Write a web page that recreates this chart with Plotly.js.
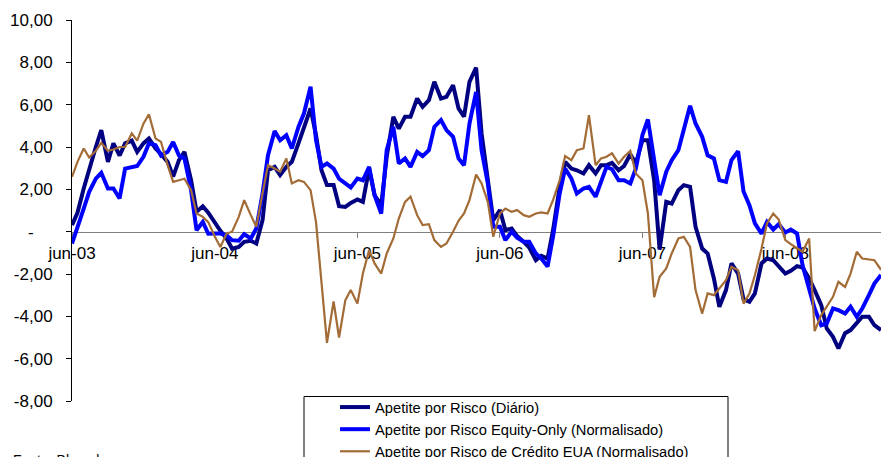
<!DOCTYPE html>
<html>
<head>
<meta charset="utf-8">
<script src="https://cdn.plot.ly/plotly-3.0.1.min.js"></script>
<style>html,body{margin:0;padding:0;background:#fff}#chart{width:881px;height:457px}</style>
</head>
<body>
<div id="chart"></div>
<script>
const dates = [
'2003-06-01','2003-06-15','2003-07-01','2003-07-15','2003-08-01','2003-08-15','2003-09-01','2003-09-15','2003-10-01','2003-10-15','2003-11-01','2003-11-15','2003-12-01','2003-12-15',
'2004-01-01','2004-01-15','2004-02-01','2004-02-15','2004-03-01','2004-03-15','2004-04-01','2004-04-15','2004-05-01','2004-05-15','2004-06-01','2004-06-15','2004-07-01','2004-07-15','2004-08-01','2004-08-15','2004-09-01','2004-09-15','2004-10-01','2004-10-15','2004-11-01','2004-11-15','2004-12-01','2004-12-15',
'2005-01-01','2005-01-15','2005-02-01','2005-02-15','2005-03-01','2005-03-15','2005-04-01','2005-04-15','2005-05-01','2005-05-15','2005-06-01','2005-06-15','2005-07-01','2005-07-15','2005-08-01','2005-08-15','2005-09-01','2005-09-15','2005-10-01','2005-10-15','2005-11-01','2005-11-15','2005-12-01','2005-12-15',
'2006-01-01','2006-01-15','2006-02-01','2006-02-15','2006-03-01','2006-03-15','2006-04-01','2006-04-15','2006-05-01','2006-05-15','2006-06-01','2006-06-15','2006-07-01','2006-07-15','2006-08-01','2006-08-15','2006-09-01','2006-09-15','2006-10-01','2006-10-15','2006-11-01','2006-11-15','2006-12-01','2006-12-15',
'2007-01-01','2007-01-15','2007-02-01','2007-02-15','2007-03-01','2007-03-15','2007-04-01','2007-04-15','2007-05-01','2007-05-15','2007-06-01','2007-06-15','2007-07-01','2007-07-15','2007-08-01','2007-08-15','2007-09-01','2007-09-15','2007-10-01','2007-10-15','2007-11-01','2007-11-15','2007-12-01','2007-12-15',
'2008-01-01','2008-01-15','2008-02-01','2008-02-15','2008-03-01','2008-03-15','2008-04-01','2008-04-15','2008-05-01','2008-05-15','2008-06-01','2008-06-15','2008-07-01','2008-07-15','2008-08-01','2008-08-15','2008-09-01','2008-09-15','2008-10-01','2008-10-15','2008-11-01','2008-11-15','2008-12-01','2008-12-15',
'2009-01-01','2009-01-15','2009-02-01'
];

const apetiteDiario = [
0.31,0.89,2.04,2.98,4.0,4.8,3.3,4.17,3.6,4.17,4.3,3.77,4.17,4.4,
3.93,3.66,3.3,2.6,3.38,3.77,2.43,0.94,1.2,0.9,0.39,0.04,-0.32,-0.8,-0.72,-0.48,-0.43,-0.56,0.54,2.9,3.06,2.67,3.06,3.3,
4.17,4.87,5.82,4.56,2.9,2.2,2.2,1.2,1.17,1.36,1.52,1.41,2.98,1.72,1.25,3.54,5.43,4.87,5.43,5.43,6.29,5.9,6.21,7.08,
6.29,6.37,6.92,5.82,5.43,7.08,7.75,4.64,2.43,0.54,1.02,0.07,0.15,-0.21,-0.48,-0.75,-1.35,-1.14,-1.27,0.07,2.12,3.3,2.98,2.9,
2.75,3.14,2.75,3.14,3.14,3.25,2.9,3.1,3.66,3.22,4.32,4.32,2.43,-0.85,1.41,1.33,1.96,2.2,2.12,0.23,-0.8,-1.03,-2.21,-3.55,
-2.76,-1.5,-1.98,-3.2,-3.31,-2.92,-1.5,-1.27,-1.35,-1.63,-1.98,-1.85,-1.63,-1.69,-2.21,-2.76,-3.47,-4.57,-4.97,-5.52,-4.8,-4.65,-4.34,-4.02,
-4.02,-4.42,-4.65
];

const apetiteEquity = [
-0.56,0.15,1.09,1.88,2.51,2.78,2.04,2.04,1.57,2.98,3.03,3.1,3.54,4.17,
4.09,3.6,3.77,4.24,3.6,3.46,1.96,0.07,0.46,-0.1,-0.09,-0.09,-0.17,-0.4,-0.43,-0.12,-0.32,0.15,1.8,3.61,4.76,4.32,4.56,3.93,
4.95,5.58,6.85,4.32,3.06,3.22,2.98,2.5,2.28,2.09,2.51,2.43,3.06,1.72,0.86,3.85,4.95,3.22,3.46,3.06,3.77,3.57,3.85,4.95,
5.27,4.8,4.48,3.46,3.14,5.11,6.6,3.85,2.28,0.23,0.23,-0.4,0.0,-0.29,-0.48,-0.48,-1.03,-1.27,-1.65,-0.24,1.8,2.98,2.51,1.8,
2.04,2.12,1.65,2.35,3.06,2.95,2.43,2.43,2.28,2.98,4.56,5.3,3.22,1.72,2.83,3.38,3.85,4.8,5.95,5.11,4.48,3.61,3.46,2.43,
2.35,3.38,3.8,1.9,1.25,0.39,-0.09,0.46,0.1,0.35,-0.04,0.1,-0.09,-1.58,-2.68,-3.63,-4.42,-4.34,-3.63,-3.71,-3.87,-3.55,-4.02,-3.63,
-3.0,-2.45,-2.05
];

const apetiteCredito = [
2.59,3.3,3.93,3.5,3.82,4.2,3.82,3.88,4.0,4.0,4.64,4.3,5.1,5.55,
4.4,4.24,3.14,2.35,2.43,2.5,1.96,0.86,0.7,0.45,-0.24,-0.72,-0.09,0.0,0.7,1.49,0.78,0.23,1.8,3.14,2.98,2.83,3.46,2.28,
2.43,2.35,1.96,0.45,-2.4,-5.25,-3.3,-5.0,-3.24,-2.76,-3.4,-1.98,-0.87,-1.5,-1.98,-1.03,-0.32,0.62,1.41,1.65,0.78,0.31,0.35,-0.4,
-0.72,-0.56,0.0,0.51,0.86,1.49,2.7,2.28,1.41,-0.24,0.86,1.09,0.94,1.02,0.78,0.7,0.86,0.91,0.86,1.49,2.43,3.57,3.38,3.85,
3.93,5.5,3.14,3.46,3.54,3.7,3.22,3.54,3.82,2.75,2.43,0.86,-3.1,-2.13,-1.74,-1.03,-0.32,-0.24,-0.72,-2.76,-3.87,-2.92,-3.0,-2.68,
-2.29,-1.66,-1.82,-3.4,-2.92,-2.06,-0.8,0.39,0.86,0.57,-0.4,-0.59,-0.8,-0.95,-0.32,-4.7,-3.94,-3.55,-3.08,-2.37,-2.61,-1.98,-0.95,-1.27,
-1.31,-1.35,-1.8
];

const seriesNames = [
'Apetite por Risco (Diário)',
'Apetite por Risco Equity-Only (Normalisado)',
'Apetite por Risco de Crédito EUA (Normalisado)'
];

const yTickVals = [10, 8, 6, 4, 2, 0, -2, -4, -6, -8];
const yTickText = ['10,00', '8,00', '6,00', '4,00', '2,00', '-\u00a0\u00a0\u00a0\u00a0', '-2,00', '-4,00', '-6,00', '-8,00'];
const xTickVals = ['2003-06-01', '2004-06-01', '2005-06-01', '2006-06-01', '2007-06-01', '2008-06-01'];
const xTickText = ['jun-03', 'jun-04', 'jun-05', 'jun-06', 'jun-07', 'jun-08'];
const sourceText = 'Fonte: Bloomberg';

const W = 881, H = 457, L = 72, T = 20, B = 55.5, R = 0;
const plotW = W - L - R, plotH = H - T - B;
const px = v => (v - L) / plotW;
const py = v => (H - B - v) / plotH;

const traces = [
  {x: dates, y: apetiteDiario, name: seriesNames[0], type: 'scatter', mode: 'lines',
   line: {color: '#000080', width: 4}},
  {x: dates, y: apetiteEquity, name: seriesNames[1], type: 'scatter', mode: 'lines',
   line: {color: '#0000FF', width: 4}},
  {x: dates, y: apetiteCredito, name: seriesNames[2], type: 'scatter', mode: 'lines',
   line: {color: '#A36B35', width: 2.2}}
];

const layout = {
  width: W, height: H,
  margin: {l: L, r: R, t: T, b: B, autoexpand: false},
  paper_bgcolor: '#fff', plot_bgcolor: '#fff',
  font: {family: 'Liberation Sans, Arial, sans-serif', color: '#000', size: 17},
  showlegend: true,
  legend: {x: px(335), xanchor: 'left', y: py(391.5), yanchor: 'top',
           bgcolor: 'rgba(0,0,0,0)', borderwidth: 0,
           font: {size: 14.7, family: 'Liberation Sans, Arial, sans-serif', color: '#000'}},
  xaxis: {type: 'date', range: ['2003-06-01', '2009-02-01'],
          anchor: 'free', position: 8 / 18, layer: 'below traces',
          showline: true, linecolor: '#808080', linewidth: 1.5,
          showgrid: false, zeroline: false,
          ticks: 'outside', ticklen: 5, tickcolor: '#808080', tickwidth: 1,
          tickvals: xTickVals, ticktext: xTickText,
          tickfont: {size: 17}},
  yaxis: {range: [-8, 10], showline: true, linecolor: '#000', linewidth: 1,
          showgrid: false, zeroline: false,
          ticks: 'outside', ticklen: 5, tickcolor: '#000', tickwidth: 1,
          tickvals: yTickVals, ticktext: yTickText, ticklabelstandoff: 10,
          tickfont: {size: 17}},
  shapes: [
    {type: 'rect', xref: 'paper', yref: 'paper', x0: px(304), x1: px(728), y0: py(397), y1: py(475),
     line: {color: '#000', width: 1}, fillcolor: 'rgba(0,0,0,0)'}
  ],
  annotations: [
    {text: sourceText, xref: 'paper', yref: 'paper', x: px(11), y: py(451), xanchor: 'left', yanchor: 'top',
     showarrow: false, font: {size: 14, color: '#000'}}
  ]
};

Plotly.newPlot('chart', traces, layout, {displayModeBar: false, staticPlot: true});
</script>
</body>
</html>
